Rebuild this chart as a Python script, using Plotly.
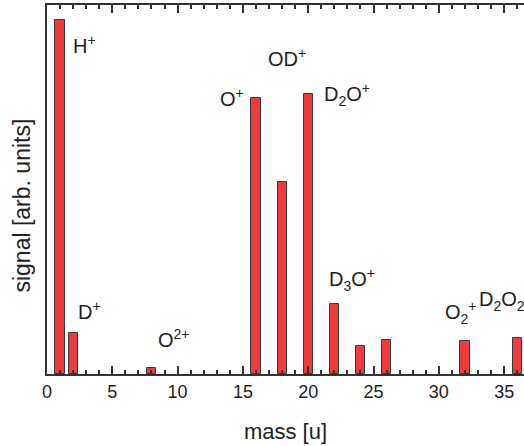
import plotly.graph_objects as go

masses = [1, 2, 8, 16, 18, 20, 22, 24, 26, 32, 36]
signal = [100, 11.5, 1.6, 77.9, 54.3, 79.1, 19.7, 7.8, 9.7, 9.3, 10.3]

label_text = ["H<sup>+</sup>", "D<sup>+</sup>", "O<sup>2+</sup>", "O<sup>+</sup>", "OD<sup>+</sup>",
              "D<sub>2</sub>O<sup>+</sup>", "D<sub>3</sub>O<sup>+</sup>", "O<sub>2</sub><sup>+</sup>",
              "D<sub>2</sub>O<sub>2</sub><sup>+</sup>"]
label_x = [1.8, 2.25, 8.35, 13.1, 16.75, 21.05, 21.45, 30.35, 32.95]
label_y = [93, 18.0, 10.1, 78.2, 89.3, 78.8, 26.6, 17.3, 20.9]

FONT = "Liberation Sans, Arial, sans-serif"

fig = go.Figure()
fig.add_trace(go.Bar(
    x=masses, y=signal, width=0.7,
    marker=dict(color="#EF3B3D", line=dict(color="#3a3a3a", width=1)),
))

for t, x, y in zip(label_text, label_x, label_y):
    fig.add_annotation(x=x, y=y, text=t, showarrow=False, xanchor="left", yanchor="middle",
                       font=dict(family=FONT, size=20, color="#222222"))

# y-axis title as annotation (placed slightly below plot centre as in reference)
fig.add_annotation(xref="paper", yref="paper", x=-0.052, y=0.457, text="signal [arb. units]",
                   textangle=-90, showarrow=False, xanchor="center", yanchor="middle",
                   font=dict(family=FONT, size=23, color="#222222"))

fig.update_layout(
    width=524, height=446,
    margin=dict(l=47, r=0, t=5, b=72),
    plot_bgcolor="white", paper_bgcolor="white",
    showlegend=False, bargap=0,
    font=dict(family=FONT, size=18, color="#222222"),
)
fig.update_xaxes(
    range=[0, 36.52], showgrid=False, zeroline=False, automargin=False,
    showline=True, linecolor="#333333", linewidth=2, mirror="ticks",
    ticks="inside", ticklen=8, tickwidth=1.5, tickcolor="#333333", dtick=5, tick0=0,
    minor=dict(ticks="inside", ticklen=4, dtick=1, tickwidth=1.5, tickcolor="#333333"),
    title=dict(text="mass [u]", font=dict(size=22), standoff=23),
    tickfont=dict(size=18),
)
fig.update_yaxes(
    range=[0, 104.2], showgrid=False, zeroline=False, automargin=False,
    showline=True, linecolor="#333333", linewidth=2,
    showticklabels=False, ticks="",
)

fig.write_html("out.html", config={"displayModeBar": False},
               post_script="document.body.style.margin='0';document.body.style.padding='0';")
